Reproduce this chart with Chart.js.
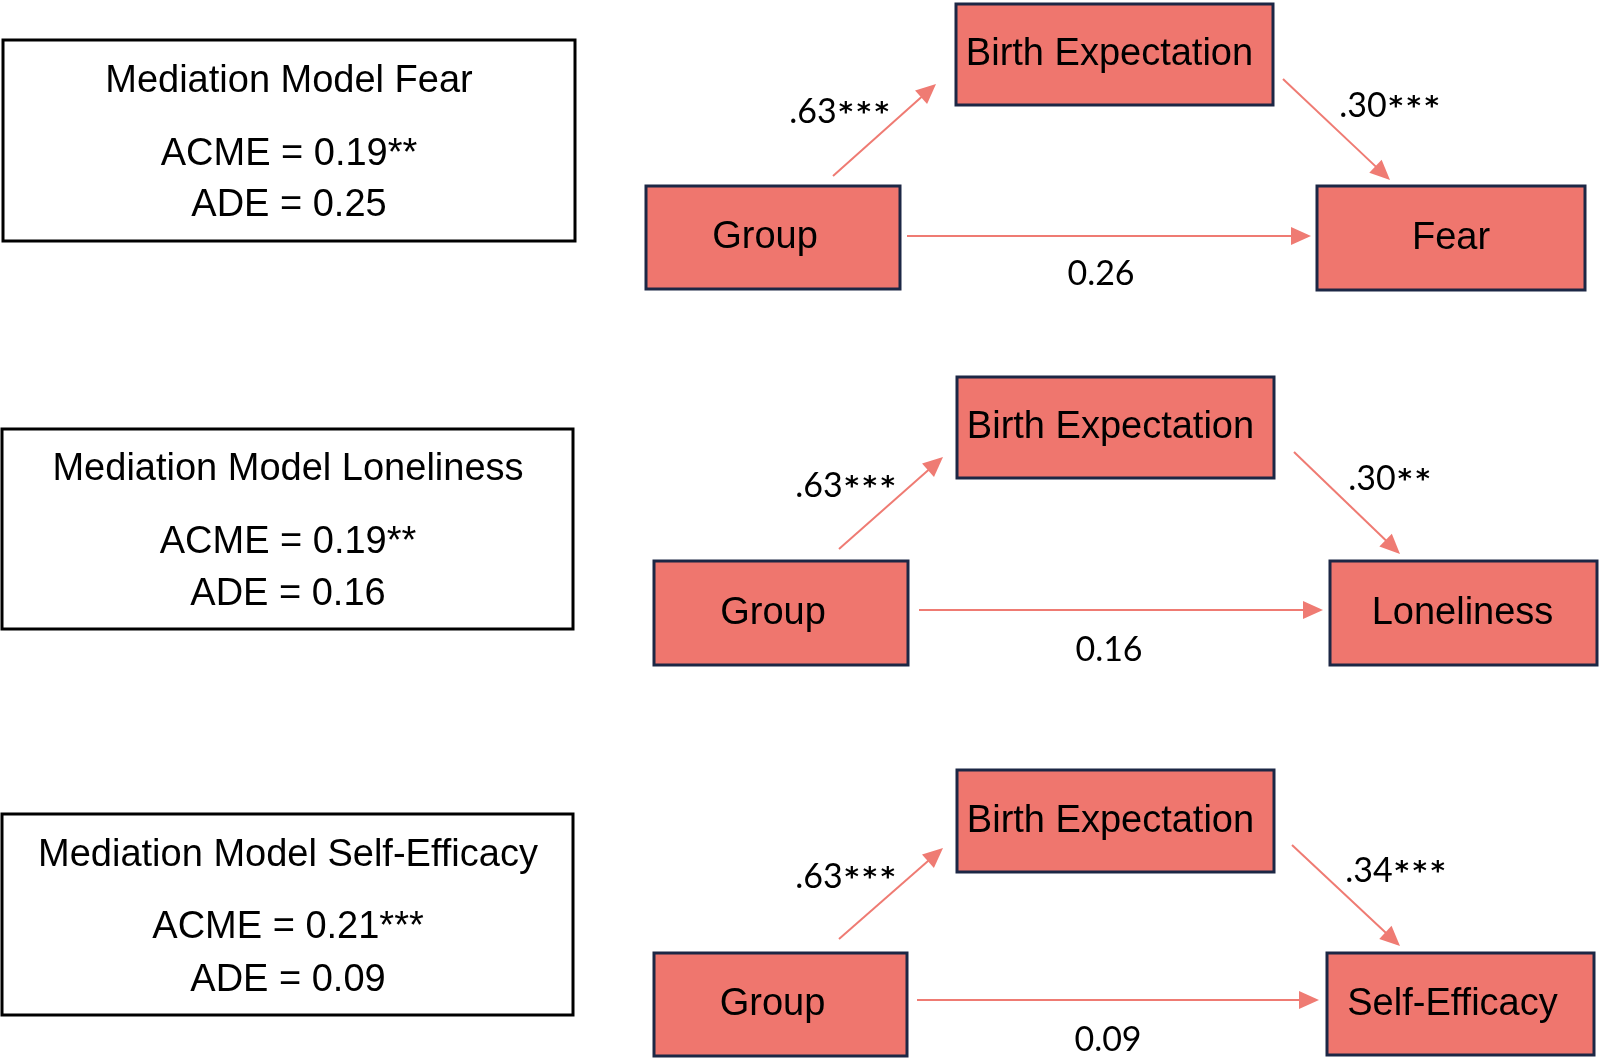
<!DOCTYPE html>
<html>
<head>
<meta charset="utf-8">
<script src="https://cdn.jsdelivr.net/npm/chart.js@4.4.0/dist/chart.umd.min.js"></script>
<style>
html,body{margin:0;padding:0;background:#ffffff;}
#wrap{width:1600px;height:1058px;}
</style>
</head>
<body>
<div id="wrap"><canvas id="c" width="1600" height="1058"></canvas></div>
<script>
// ---------- DATA ----------
const panelTitles = ['Mediation Model Fear', 'Mediation Model Loneliness', 'Mediation Model Self-Efficacy'];
const predictorLabel = 'Group';
const mediatorLabel = 'Birth Expectation';
const outcomeLabels = ['Fear', 'Loneliness', 'Self-Efficacy'];
const acmeValues = [0.19, 0.19, 0.21];
const acmeSig = ['**', '**', '***'];
const adeValues = [0.25, 0.16, 0.09];
const pathAValues = [0.63, 0.63, 0.63];
const pathASig = ['***', '***', '***'];
const pathBValues = [0.30, 0.30, 0.34];
const pathBSig = ['***', '**', '***'];
const pathCValues = [0.26, 0.16, 0.09];

// ---------- LAYOUT (diagram geometry, in axis units) ----------
const layout = [
  { info:[3,575,40,241], infoX:289, infoY:[82,155,206],
    med:[956,1273,4,105,-5], pred:[646,900,186,289,-8], out:[1317,1585,186,290,0],
    a:[833,176,936,84], b:[1283,79,1390,180], c:[907,236,1311,236],
    aLab:[840,123], bLab:[1390,117], cLab:[1101,285] },
  { info:[2,573,429,629], infoX:288, infoY:[470,543,595],
    med:[957,1274,377,478,-5], pred:[654,908,561,665,-8], out:[1330,1597,561,665,-1],
    a:[839,549,943,457], b:[1294,452,1400,554], c:[919,610,1323,610],
    aLab:[846,497], bLab:[1390,490], cLab:[1109,661] },
  { info:[2,573,814,1015], infoX:288, infoY:[856,928,981],
    med:[957,1274,770,872,-5], pred:[654,907,953,1056,-8], out:[1327,1594,953,1055,-8],
    a:[839,939,943,848], b:[1292,845,1400,946], c:[917,1000,1319,1000],
    aLab:[846,888], bLab:[1396,882], cLab:[1108,1051] }
];

const BOX_FILL = '#EF766E';
const BOX_EDGE = '#1C2745';
const ARROW = '#EF7B73';
const HEAD = 20;
const STAR_ADV = 18;

function coef(v){ return v.toFixed(2).replace(/^0/, ''); }

function shaft(seg){
  const [x1,y1,x2,y2] = seg;
  const dx=x2-x1, dy=y2-y1, L=Math.hypot(dx,dy);
  return [{x:x1,y:y1},{x:x2-dx/L*(HEAD-2),y:y2-dy/L*(HEAD-2)}];
}
const datasets = [];
layout.forEach(p => {
  ['a','b','c'].forEach(k => {
    datasets.push({
      type:'line', data: shaft(p[k]), borderColor: ARROW, borderWidth: 2,
      pointRadius: 0, showLine: true, fill: false, tension: 0, _seg: p[k]
    });
  });
});

function drawCoef(ctx, num, stars, cx, baseY){
  ctx.font = '34px Lato, "Open Sans", sans-serif';
  const nw = ctx.measureText(num).width;
  const total = nw + stars.length * STAR_ADV;
  let x = cx - total/2;
  ctx.textAlign = 'left'; ctx.textBaseline = 'alphabetic';
  ctx.fillText(num, x, baseY);
  x += nw;
  ctx.font = 'bold 27px "DejaVu Sans", sans-serif';
  ctx.textAlign = 'center';
  for (let k = 0; k < stars.length; k++) {
    ctx.fillText('*', x + STAR_ADV*(k+0.5), baseY - 2);
  }
}

const diagramPlugin = {
  id: 'diagram',
  beforeDatasetsDraw(chart){
    const ctx = chart.ctx, xs = chart.scales.x, ys = chart.scales.y;
    const X = v => xs.getPixelForValue(v), Y = v => ys.getPixelForValue(v);
    ctx.save();
    layout.forEach((p, i) => {
      const [l,r,t,b] = p.info;
      ctx.lineWidth = 3; ctx.strokeStyle = '#000'; ctx.fillStyle = '#fff';
      ctx.fillRect(X(l),Y(t),X(r)-X(l),Y(b)-Y(t));
      ctx.strokeRect(X(l),Y(t),X(r)-X(l),Y(b)-Y(t));
      ctx.fillStyle = '#000'; ctx.textAlign='center'; ctx.textBaseline='middle';
      ctx.font = '38px "Liberation Sans", Arial, sans-serif';
      ctx.fillText(panelTitles[i], X(p.infoX), Y(p.infoY[0]));
      ctx.fillText('ACME = ' + acmeValues[i].toFixed(2) + acmeSig[i], X(p.infoX), Y(p.infoY[1]));
      ctx.fillText('ADE = ' + adeValues[i].toFixed(2), X(p.infoX), Y(p.infoY[2]));
      [[p.med, mediatorLabel],[p.pred, predictorLabel],[p.out, outcomeLabels[i]]].forEach(([rc, txt]) => {
        const [l2,r2,t2,b2,dx] = rc;
        ctx.fillStyle = BOX_FILL; ctx.strokeStyle = BOX_EDGE; ctx.lineWidth = 3;
        ctx.fillRect(X(l2),Y(t2),X(r2)-X(l2),Y(b2)-Y(t2));
        ctx.strokeRect(X(l2),Y(t2),X(r2)-X(l2),Y(b2)-Y(t2));
        ctx.fillStyle = '#000';
        ctx.font = '38px "Liberation Sans", Arial, sans-serif';
        ctx.fillText(txt, X((l2+r2)/2 + dx), Y((t2+b2)/2 + 0.5));
      });
    });
    ctx.restore();
  },
  afterDatasetsDraw(chart){
    const ctx = chart.ctx, xs = chart.scales.x, ys = chart.scales.y;
    const X = v => xs.getPixelForValue(v), Y = v => ys.getPixelForValue(v);
    ctx.save();
    chart.data.datasets.forEach(ds => {
      const [x1,y1,x2,y2] = ds._seg;
      const px2=X(x2), py2=Y(y2), ang=Math.atan2(py2-Y(y1), px2-X(x1));
      ctx.fillStyle = ARROW;
      ctx.beginPath();
      ctx.moveTo(px2, py2);
      ctx.lineTo(px2 - HEAD*Math.cos(ang) + 9*Math.sin(ang), py2 - HEAD*Math.sin(ang) - 9*Math.cos(ang));
      ctx.lineTo(px2 - HEAD*Math.cos(ang) - 9*Math.sin(ang), py2 - HEAD*Math.sin(ang) + 9*Math.cos(ang));
      ctx.closePath(); ctx.fill();
    });
    ctx.fillStyle = '#000';
    layout.forEach((p, i) => {
      drawCoef(ctx, coef(pathAValues[i]), pathASig[i], X(p.aLab[0]), Y(p.aLab[1]));
      drawCoef(ctx, coef(pathBValues[i]), pathBSig[i], X(p.bLab[0]), Y(p.bLab[1]));
      drawCoef(ctx, pathCValues[i].toFixed(2), '', X(p.cLab[0]), Y(p.cLab[1]));
    });
    ctx.restore();
  }
};

new Chart(document.getElementById('c'), {
  type: 'scatter',
  data: { datasets },
  options: {
    responsive: false, animation: false, devicePixelRatio: 1,
    layout: { padding: 0 },
    scales: {
      x: { type:'linear', min:0, max:1600, display:false },
      y: { type:'linear', min:0, max:1058, reverse:true, display:false }
    },
    plugins: { legend:{display:false}, tooltip:{enabled:false} },
    events: []
  },
  plugins: [diagramPlugin]
});
</script>
</body>
</html>
